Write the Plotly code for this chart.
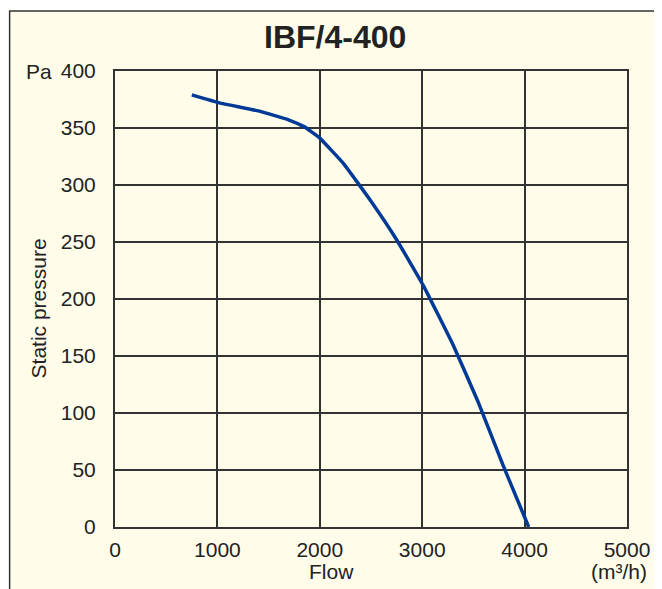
import plotly.graph_objects as go

flow = [750, 1020, 1400, 1700, 1850, 1990, 2230, 2490, 2750, 3010, 3300, 3540, 3790, 4040]
pressure = [379, 372, 365, 357, 351, 342, 319, 287, 252, 212, 160, 111, 54, 0]
x_ticks = [0, 1000, 2000, 3000, 4000, 5000]
y_ticks = [0, 50, 100, 150, 200, 250, 300, 350, 400]
title = "IBF/4-400"

cream = "#fffdea"
# page body has an 8px margin; figure sits at screen (8, 8)
OFF = 8
W, H = 654, 581
L, R, T, B = 115 - OFF, 32, 71 - OFF, 62
pw, ph = 515, 456

def px_x(p):  # screen px -> paper
    return (p - 115) / pw

def px_y(p):
    return (527 - p) / ph

fig = go.Figure()
fig.add_trace(go.Scatter(x=flow, y=pressure, mode="lines",
                         line=dict(color="#003a96", width=3.5, shape="spline", smoothing=0.3),
                         hoverinfo="skip", showlegend=False))

font = "Liberation Sans, Arial, sans-serif"
fs = 21
fig.update_layout(
    width=W, height=H,
    margin=dict(l=L, r=R, t=T, b=B),
    paper_bgcolor="white", plot_bgcolor=cream,
    font=dict(family=font, size=fs, color="#222"),
    xaxis=dict(range=[0, 5000], tickvals=x_ticks, ticktext=[str(v) for v in x_ticks],
               showgrid=True, gridcolor="#333", gridwidth=1.5, zeroline=False,
               showline=True, linecolor="#333", linewidth=2, mirror=True,
               ticks="", ticklabelstandoff=3, fixedrange=True),
    yaxis=dict(range=[0, 400], tickvals=y_ticks, ticktext=[str(v) for v in y_ticks],
               showgrid=True, gridcolor="#333", gridwidth=1.5, zeroline=False,
               showline=True, linecolor="#333", linewidth=2, mirror=True,
               ticks="", ticklabelstandoff=13, fixedrange=True),
    shapes=[dict(type="rect", xref="paper", yref="paper", layer="below",
                 x0=px_x(9), x1=px_x(700), y0=px_y(620), y1=px_y(11),
                 fillcolor=cream, line=dict(color="#333", width=1.5))],
    annotations=[
        dict(text="<b>" + title + "</b>", xref="paper", yref="paper", x=px_x(336), y=px_y(37),
             showarrow=False, font=dict(size=32, family=font, color="#222"), xanchor="center", yanchor="middle"),
        dict(text="Pa", xref="paper", yref="paper", x=px_x(23), y=px_y(71),
             showarrow=False, xanchor="left", yanchor="middle", font=dict(size=fs)),
        dict(text="Static pressure", xref="paper", yref="paper", x=px_x(38), y=px_y(308),
             showarrow=False, textangle=-90, xanchor="center", yanchor="middle", font=dict(size=fs)),
        dict(text="Flow", xref="paper", yref="paper", x=px_x(333), y=px_y(571),
             showarrow=False, xanchor="center", yanchor="middle", font=dict(size=fs)),
        dict(text="(m³/h)", xref="paper", yref="paper", x=px_x(622), y=px_y(571),
             showarrow=False, xanchor="center", yanchor="middle", font=dict(size=fs)),
    ],
)

fig.write_html("out.html")
